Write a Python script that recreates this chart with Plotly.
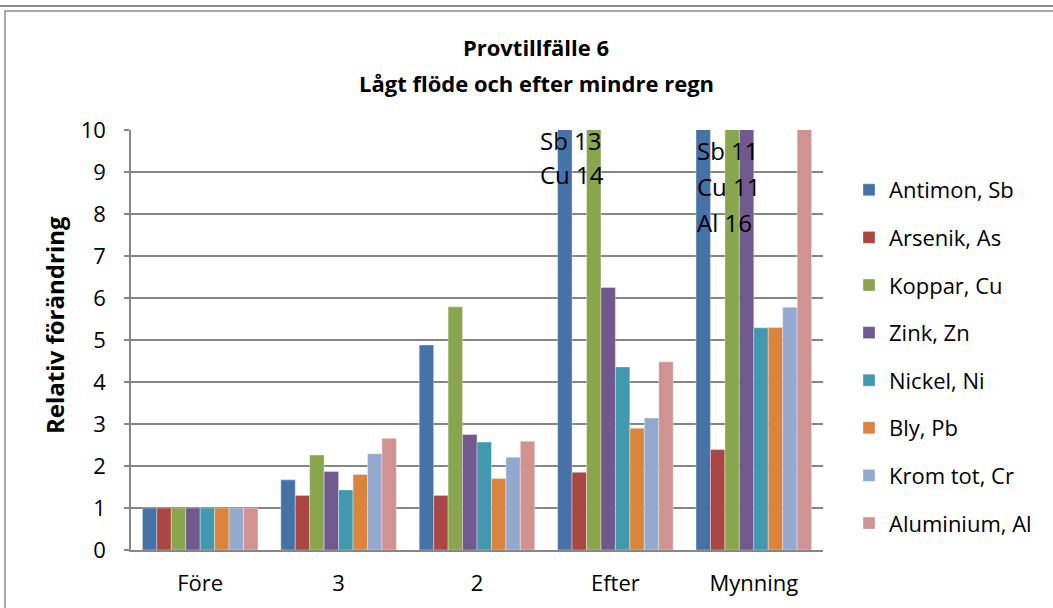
import plotly.graph_objects as go

categories = ["Före", "3", "2", "Efter", "Mynning"]
series_names = ["Antimon, Sb", "Arsenik, As", "Koppar, Cu", "Zink, Zn",
                "Nickel, Ni", "Bly, Pb", "Krom tot, Cr", "Aluminium, Al"]
sb = [1, 1.67, 4.88, 13, 11]
as_ = [1, 1.30, 1.30, 1.85, 2.39]
cu = [1, 2.26, 5.79, 14, 11]
zn = [1, 1.87, 2.75, 6.25, 10.3]
ni = [1, 1.43, 2.57, 4.36, 5.29]
pb = [1, 1.80, 1.70, 2.90, 5.30]
cr = [1, 2.29, 2.21, 3.14, 5.78]
al = [1, 2.66, 2.59, 4.48, 16]
series_values = [sb, as_, cu, zn, ni, pb, cr, al]
colors = ["#4572A7", "#AA4643", "#89A54E", "#71588F",
          "#4198AF", "#DB843D", "#93A9CF", "#D19392"]
y_ticks = [0, 1, 2, 3, 4, 5, 6, 7, 8, 9, 10]
title_line1 = "Provtillfälle 6"
title_line2 = "Lågt flöde och efter mindre regn"
y_title = "Relativ förändring"

FONT = "Open Sans"
fig = go.Figure()
for name, vals, c in zip(series_names, series_values, colors):
    fig.add_trace(go.Bar(x=categories, y=vals, name=name, legendgroup=name,
                         marker=dict(color=c, line=dict(width=0.6, color="rgba(255,255,255,0.6)"))))

L, R, T, B = 131, 230, 130, 58
W, H = 1053, 608
pw, ph = W - L - R, H - T - B

def px(x):
    return (x - L) / pw

def py(y):
    return (H - B - y) / ph

fig.update_layout(
    width=W, height=H,
    margin=dict(l=L, r=R, t=T, b=B, autoexpand=False),
    paper_bgcolor="white", plot_bgcolor="white",
    barmode="group", bargap=0.165, bargroupgap=0,
    font=dict(family=FONT, size=20, color="black"),
    title=dict(text="<b>" + title_line1 + "</b>",
               xref="container", x=536 / W, xanchor="center",
               yref="container", y=1 - 48 / H, yanchor="middle",
               font=dict(family=FONT, size=22, color="black")),
    xaxis=dict(showline=True, linecolor="#868686", linewidth=1.5, ticks="",
               tickfont=dict(size=22), showgrid=False, ticklabelstandoff=13,
               automargin=False),
    yaxis=dict(range=[0, 10], tickvals=y_ticks, showline=True, linecolor="#868686",
               linewidth=1.5, showgrid=True, gridcolor="#868686", gridwidth=1.5,
               ticks="outside", ticklen=5, tickcolor="#868686", tickwidth=1.5,
               ticklabelstandoff=14, tickfont=dict(size=22), automargin=False),
    legend=dict(x=px(849), xanchor="left", y=py(169), yanchor="top",
                font=dict(size=22), tracegroupgap=16, itemwidth=30,
                bgcolor="rgba(0,0,0,0)"),
    showlegend=True,
)

fig.add_annotation(text="<b>" + title_line2 + "</b>", xref="paper", yref="paper",
                   x=px(536), y=py(83), xanchor="center", yanchor="middle",
                   showarrow=False, font=dict(family=FONT, size=22, color="black"))
fig.add_annotation(text="<b>" + y_title + "</b>", xref="paper", yref="paper",
                   x=px(54), y=py(325), xanchor="center", yanchor="middle",
                   textangle=-90, showarrow=False,
                   font=dict(family=FONT, size=24, color="black"))

ann = [("Sb 13", 538, 140), ("Cu 14", 538, 175),
       ("Sb 11", 695, 150), ("Cu 11", 695, 186), ("Al 16", 695, 222)]
for t, x, y in ann:
    fig.add_annotation(text=t, xref="paper", yref="paper", x=px(x), y=py(y),
                       xanchor="left", yanchor="middle", showarrow=False,
                       font=dict(family=FONT, size=24, color="black"))

# chart frame and top frame line of preceding chart
fig.add_shape(type="rect", xref="paper", yref="paper",
              x0=px(5), x1=px(1060), y0=py(620), y1=py(11),
              line=dict(color="#8c8c8c", width=1.5), layer="below")
fig.add_shape(type="line", xref="paper", yref="paper",
              x0=px(0), x1=px(1060), y0=py(6), y1=py(6),
              line=dict(color="#8c8c8c", width=2), layer="below")

fig.write_html("out.html", config={"displayModeBar": False},
               post_script="document.body.style.margin='0';document.body.style.overflow='hidden';")
